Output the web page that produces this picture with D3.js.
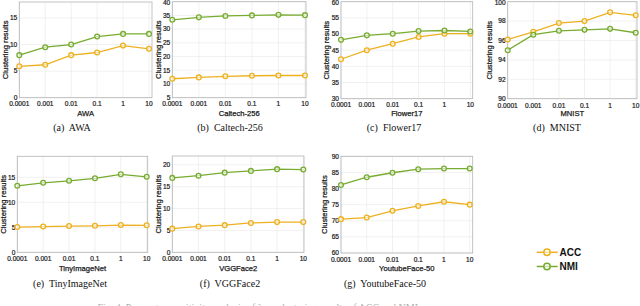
<!DOCTYPE html>
<html><head><meta charset="utf-8">
<script src="https://cdn.jsdelivr.net/npm/d3@7"></script>
<style>
html,body{margin:0;padding:0;background:#fff;}
svg{display:block;}
</style></head>
<body>
<svg id="chart" width="640" height="306"></svg>
<script>
// ---------------- data ----------------
const params = [0.0001, 0.001, 0.01, 0.1, 1, 10];
const paramLabels = ["0.0001", "0.001", "0.01", "0.1", "1", "10"];
const datasets = ["AWA", "Caltech-256", "Flower17", "MNIST", "TinyImageNet", "VGGFace2", "YoutubeFace-50"];
const captionLetters = ["(a)", "(b)", "(c)", "(d)", "(e)", "(f)", "(g)"];
const seriesNames = ["ACC", "NMI"];

const accAWA = [5.9, 6.2, 8.0, 8.5, 9.8, 9.2];
const nmiAWA = [8.0, 9.5, 10.0, 11.5, 12.0, 12.0];
const accCaltech = [11.9, 12.4, 12.8, 13.0, 13.1, 13.1];
const nmiCaltech = [33.4, 34.3, 34.8, 35.0, 35.2, 35.1];
const accFlower = [42.2, 45.0, 47.0, 49.1, 50.1, 50.1];
const nmiFlower = [48.2, 49.6, 50.1, 50.9, 51.1, 50.8];
const accMNIST = [96.1, 96.9, 97.8, 98.0, 98.9, 98.6];
const nmiMNIST = [95.0, 96.6, 97.0, 97.1, 97.2, 96.8];
const accTiny = [5.05, 5.15, 5.25, 5.3, 5.45, 5.4];
const nmiTiny = [13.3, 13.9, 14.3, 14.8, 15.6, 15.1];
const accVGG = [5.4, 5.9, 6.2, 6.7, 6.9, 6.9];
const nmiVGG = [17.0, 17.5, 18.2, 18.6, 19.0, 18.9];
const accYTF = [70.5, 71.0, 73.1, 74.6, 75.9, 75.0];
const nmiYTF = [81.1, 83.5, 84.9, 86.0, 86.2, 86.2];

const yLimAWA = [0, 18],   yTicksAWA = [0, 5, 10, 15];
const yLimCaltech = [5, 40], yTicksCaltech = [5, 10, 15, 20, 25, 30, 35, 40];
const yLimFlower = [30, 60], yTicksFlower = [30, 35, 40, 45, 50, 55, 60];
const yLimMNIST = [90, 100], yTicksMNIST = [90, 92, 94, 96, 98, 100];
const yLimTiny = [0, 19.2], yTicksTiny = [0, 5, 10, 15];
const yLimVGG = [0, 22],   yTicksVGG = [0, 5, 10, 15, 20];
const yLimYTF = [60, 90],  yTicksYTF = [60, 65, 70, 75, 80, 85, 90];

const panelData = [
  {acc: accAWA, nmi: nmiAWA, lim: yLimAWA, ticks: yTicksAWA},
  {acc: accCaltech, nmi: nmiCaltech, lim: yLimCaltech, ticks: yTicksCaltech},
  {acc: accFlower, nmi: nmiFlower, lim: yLimFlower, ticks: yTicksFlower},
  {acc: accMNIST, nmi: nmiMNIST, lim: yLimMNIST, ticks: yTicksMNIST},
  {acc: accTiny, nmi: nmiTiny, lim: yLimTiny, ticks: yTicksTiny},
  {acc: accVGG, nmi: nmiVGG, lim: yLimVGG, ticks: yTicksVGG},
  {acc: accYTF, nmi: nmiYTF, lim: yLimYTF, ticks: yTicksYTF}
];

// ---------------- layout ----------------
const layout = [
  {l: 19.3, t: 2.0, r: 152.0, b: 97.7, lastX: 149.0, yt: 13.5, tickY: 106, titleY: 115.5, capX: 72, capY: 131},
  {l: 172.3, t: 1.7, r: 306.0, b: 97.7, lastX: 305.0, yt: 13.5, tickY: 106, titleY: 115.5, capX: 230, capY: 131},
  {l: 341.0, t: 1.7, r: 472.7, b: 98.7, lastX: 470.3, yt: 14.2, tickY: 107, titleY: 115.8, capX: 394, capY: 131},
  {l: 507.7, t: 1.7, r: 637.0, b: 98.7, lastX: 635.7, yt: 17.9, tickY: 107.5, titleY: 116, capX: 557, capY: 131},
  {l: 17.3, t: 156.3, r: 147.7, b: 252.3, lastX: 146.7, yt: 14.1, tickY: 261, titleY: 270.5, capX: 70, capY: 287},
  {l: 172.3, t: 156.0, r: 304.0, b: 252.3, lastX: 303.3, yt: 13.5, tickY: 261, titleY: 270.5, capX: 230, capY: 287},
  {l: 341.0, t: 156.3, r: 472.7, b: 253.0, lastX: 469.7, yt: 16.8, tickY: 262, titleY: 271, capX: 385, capY: 287}
];

const colors = {ACC: "#EDB120", NMI: "#77AC30"};
const sans = "'Liberation Sans', Arial, Helvetica, sans-serif";
const serif = "'Liberation Serif', 'Times New Roman', serif";
const ink = "#1a1a1a";

const svg = d3.select("#chart");

panelData.forEach((pd, i) => {
  const L = layout[i];
  const g = svg.append("g");
  const x = d3.scaleLog().domain([params[0], params[params.length - 1]]).range([L.l, L.lastX]);
  const y = d3.scaleLinear().domain(pd.lim).range([L.b, L.t]);

  // grid
  g.append("g").selectAll("line").data(params).join("line")
    .attr("x1", d => x(d)).attr("x2", d => x(d)).attr("y1", L.t).attr("y2", L.b)
    .attr("stroke", "#ebebeb").attr("stroke-width", 0.7);
  g.append("g").selectAll("line").data(pd.ticks).join("line")
    .attr("x1", L.l).attr("x2", L.r).attr("y1", d => y(d)).attr("y2", d => y(d))
    .attr("stroke", "#ebebeb").attr("stroke-width", 0.7);

  // box
  g.append("rect").attr("x", L.l).attr("y", L.t).attr("width", L.r - L.l).attr("height", L.b - L.t)
    .attr("fill", "none").attr("stroke", "#b4b4b4").attr("stroke-width", 0.8);

  // x tick labels
  g.append("g").selectAll("text").data(params).join("text")
    .attr("x", d => x(d)).attr("y", L.tickY).attr("text-anchor", "middle")
    .attr("font-family", sans).attr("font-size", 6.6).attr("fill", ink)
    .attr("stroke", ink).attr("stroke-width", 0.2)
    .text((d, k) => paramLabels[k]);
  // y tick labels
  g.append("g").selectAll("text").data(pd.ticks).join("text")
    .attr("x", L.l - 2).attr("y", d => Math.max(y(d), 3)).attr("dy", "0.35em").attr("text-anchor", "end")
    .attr("font-family", sans).attr("font-size", 6.6).attr("fill", ink)
    .attr("stroke", ink).attr("stroke-width", 0.2)
    .text(d => d);
  // x title
  g.append("text").attr("x", (L.l + L.r) / 2).attr("y", L.titleY).attr("text-anchor", "middle")
    .attr("font-family", sans).attr("font-size", 7.6).attr("fill", ink)
    .attr("stroke", ink).attr("stroke-width", 0.25)
    .text(datasets[i]);
  // y title
  g.append("text")
    .attr("transform", `translate(${L.l - L.yt},${(L.t + L.b) / 2}) rotate(-90)`)
    .attr("text-anchor", "middle").attr("dy", "0.35em")
    .attr("font-family", sans).attr("font-size", 7.6).attr("fill", ink)
    .attr("stroke", ink).attr("stroke-width", 0.25)
    .text("Clustering results");

  // series
  const line = d3.line().x((d, k) => x(params[k])).y(d => y(d));
  [["ACC", pd.acc], ["NMI", pd.nmi]].forEach(([name, vals]) => {
    g.append("path").datum(vals).attr("d", line).attr("fill", "none")
      .attr("stroke", colors[name]).attr("stroke-width", 1.3);
    g.append("g").selectAll("circle").data(vals).join("circle")
      .attr("cx", (d, k) => x(params[k])).attr("cy", d => y(d)).attr("r", 2.4)
      .attr("fill", "#fff").attr("fill-opacity", 0.6)
      .attr("stroke", colors[name]).attr("stroke-width", 1.3);
  });

  // caption
  g.append("text").attr("x", L.capX).attr("y", L.capY).attr("text-anchor", "middle")
    .attr("font-family", serif).attr("font-size", 10).attr("fill", "#111")
    .attr("xml:space", "preserve")
    .text(captionLetters[i] + "  " + datasets[i]);
});

// legend
const leg = svg.append("g");
seriesNames.forEach((name, k) => {
  const yy = 252.3 + k * 14.2;
  leg.append("line").attr("x1", 536.7).attr("x2", 557.7).attr("y1", yy).attr("y2", yy)
    .attr("stroke", colors[name]).attr("stroke-width", 1.5);
  leg.append("circle").attr("cx", 547).attr("cy", yy).attr("r", 3.2)
    .attr("fill", "#fff").attr("fill-opacity", 0.6)
    .attr("stroke", colors[name]).attr("stroke-width", 1.5);
  leg.append("text").attr("x", 559.5).attr("y", yy).attr("dy", "0.36em")
    .attr("font-family", sans).attr("font-size", 10).attr("font-weight", "bold").attr("fill", "#111")
    .text(name);
});

// figure caption (cut off at bottom)
svg.append("text").attr("x", 259).attr("y", 310.5).attr("text-anchor", "middle")
  .attr("font-family", serif).attr("font-size", 10).attr("fill", "#b0b0b0")
  .text("Fig. 4. Parameter sensitivity analysis of λ on clustering results of ACC and NMI.");
</script>
</body></html>
